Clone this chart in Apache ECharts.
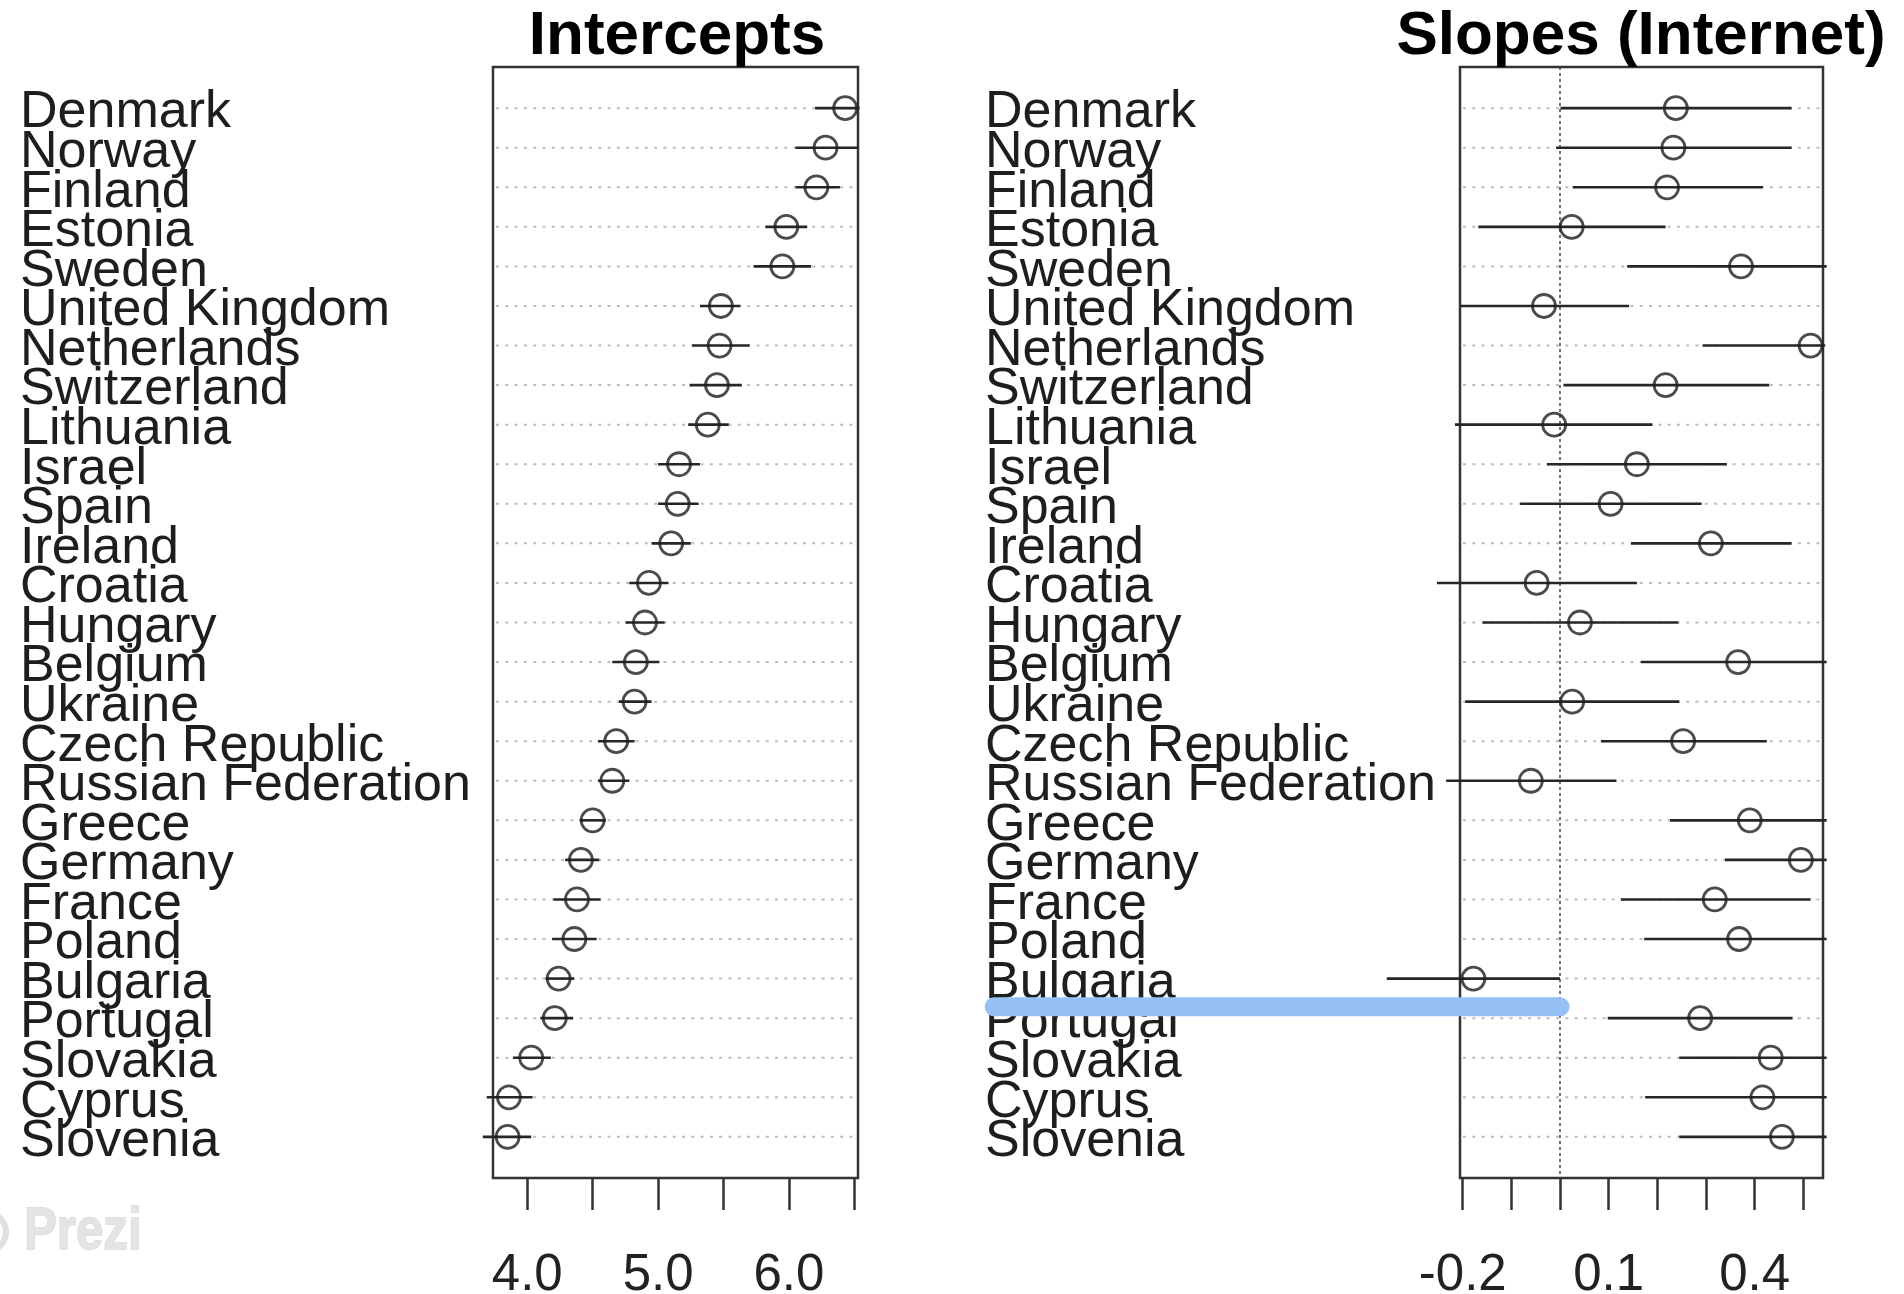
<!DOCTYPE html>
<html>
<head>
<meta charset="utf-8">
<script src="https://cdn.jsdelivr.net/npm/echarts@6/dist/echarts.min.js"></script>
<style>
html,body{margin:0;padding:0;background:#fff;}
#chart{width:1904px;height:1294px;}
</style>
</head>
<body>
<div id="chart"></div>
<script>
const countries = ["Denmark","Norway","Finland","Estonia","Sweden","United Kingdom","Netherlands","Switzerland","Lithuania","Israel","Spain","Ireland","Croatia","Hungary","Belgium","Ukraine","Czech Republic","Russian Federation","Greece","Germany","France","Poland","Bulgaria","Portugal","Slovakia","Cyprus","Slovenia"];

const interceptEst = [6.43,6.28,6.21,5.98,5.95,5.48,5.47,5.45,5.38,5.16,5.15,5.10,4.93,4.90,4.83,4.82,4.68,4.65,4.50,4.41,4.38,4.36,4.24,4.21,4.03,3.86,3.85];
const interceptLo  = [6.20,6.05,6.05,5.82,5.73,5.32,5.26,5.24,5.23,5.00,5.00,4.95,4.78,4.75,4.65,4.70,4.54,4.54,4.40,4.29,4.20,4.19,4.14,4.10,3.89,3.69,3.66];
const interceptHi  = [6.54,6.53,6.39,6.14,6.17,5.63,5.70,5.64,5.54,5.32,5.31,5.25,5.08,5.05,5.01,4.95,4.82,4.78,4.60,4.55,4.56,4.53,4.36,4.35,4.18,4.04,4.03];

const slopeEst = [0.238,0.233,0.220,0.024,0.372,-0.033,0.515,0.217,-0.012,0.158,0.104,0.310,-0.048,0.041,0.366,0.025,0.253,-0.060,0.390,0.495,0.318,0.368,-0.178,0.288,0.433,0.416,0.456];
const slopeLo  = [0.001,-0.008,0.026,-0.168,0.138,-0.204,0.293,0.007,-0.216,-0.027,-0.082,0.146,-0.253,-0.159,0.166,-0.195,0.084,-0.234,0.226,0.339,0.125,0.173,-0.356,0.098,0.245,0.175,0.245];
const slopeHi  = [0.476,0.476,0.417,0.217,0.548,0.142,0.545,0.430,0.190,0.343,0.291,0.476,0.158,0.243,0.548,0.245,0.425,0.116,0.548,0.548,0.515,0.548,0.000,0.478,0.548,0.548,0.548];

const interceptTicks  = [4.0,4.5,5.0,5.5,6.0,6.5];
const interceptLabels = [4.0,5.0,6.0];
const slopeTicks  = [-0.2,-0.1,0.0,0.1,0.2,0.3,0.4,0.5];
const slopeLabels = [-0.2,0.1,0.4];

// highlight annotation (blue stroke), in data units of the slopes panel
const highlightX = [-1.163, 0.0];
const highlightY = 22.71;

const titles = ["Intercepts","Slopes (Internet)"];

const FONT = "'Liberation Sans', Arial, Helvetica, sans-serif";
const rowIdx = countries.map((c,i)=>i);

const xRanges = [[3.738, 6.528],[-0.2056, 0.5405]];
const labelGap = [473, 475];

const chart = echarts.init(document.getElementById('chart'), null, {renderer:'canvas'});

function xAxisCfg(gi, ticks, labels){
  return {
    type:'value', gridIndex:gi, min:xRanges[gi][0], max:xRanges[gi][1], position:'bottom',
    axisLine:{show:false, onZero:false},
    splitLine:{show:false},
    axisTick:{show:true, inside:false, length:32, customValues:ticks, lineStyle:{color:'#333', width:2.5}},
    axisLabel:{show:true, customValues:labels, margin:72, fontSize:51, fontFamily:FONT, color:'#222',
      formatter:v=>Number(v).toFixed(1)}
  };
}
function yAxisCfg(gi){
  return {
    type:'value', gridIndex:gi, inverse:true, min:-1.04, max:27.04,
    axisLine:{show:false, onZero:false}, axisTick:{show:false}, splitLine:{show:false},
    axisLabel:{show:false}
  };
}

function labelSeries(gi){
  const r = xRanges[gi];
  return {
    type:'custom', xAxisIndex:gi, yAxisIndex:gi, silent:true, z:2, clip:false,
    data: rowIdx.map(i=>[i]),
    renderItem:(params, api)=>{
      const i = api.value(0);
      const p = api.coord([r[0], i]);
      return {type:'text', x:p[0]-labelGap[gi], y:p[1]+5,
        style:{text:countries[i], font:"52px "+FONT, fill:'#1e1e1e', align:'left', verticalAlign:'middle'}};
    }
  };
}
function gridLineSeries(gi){
  const r = xRanges[gi];
  return {
    type:'custom', xAxisIndex:gi, yAxisIndex:gi, silent:true, z:1,
    data: rowIdx.map(i=>[i]),
    renderItem:(params, api)=>{
      const i = api.value(0);
      const p1 = api.coord([r[0], i]);
      const p2 = api.coord([r[1], i]);
      return {type:'line', shape:{x1:p1[0]+3,y1:p1[1],x2:p2[0]-3,y2:p2[1]},
        style:{stroke:'#bdbdbd', lineWidth:2, lineDash:[3,6.3]}};
    }
  };
}
function barSeries(gi, lo, hi){
  return {
    type:'custom', xAxisIndex:gi, yAxisIndex:gi, silent:true, z:3, clip:false,
    data: rowIdx.map(i=>[lo[i], hi[i], i]),
    renderItem:(params, api)=>{
      const p1 = api.coord([api.value(0), api.value(2)]);
      const p2 = api.coord([api.value(1), api.value(2)]);
      return {type:'line', shape:{x1:p1[0],y1:p1[1],x2:p2[0],y2:p2[1]},
        style:{stroke:'#262626', lineWidth:2.6}};
    }
  };
}
function pointSeries(gi, est, extra){
  const s = {
    type:'scatter', xAxisIndex:gi, yAxisIndex:gi, silent:true, z:4,
    symbol:'circle', symbolSize:23,
    itemStyle:{color:'rgba(0,0,0,0)', borderColor:'#1e1e1e', borderWidth:2.8},
    data: rowIdx.map(i=>[est[i], i])
  };
  return Object.assign(s, extra||{});
}

const option = {
  animation:false,
  backgroundColor:'#fff',
  grid:[
    {left:493, top:67, width:365, height:1111, outerBoundsMode:'none', containLabel:false, show:true, borderColor:'#333', borderWidth:2.5, backgroundColor:'transparent'},
    {left:1460, top:67, width:363, height:1111, outerBoundsMode:'none', containLabel:false, show:true, borderColor:'#333', borderWidth:2.5, backgroundColor:'transparent'}
  ],
  xAxis:[ xAxisCfg(0, interceptTicks, interceptLabels), xAxisCfg(1, slopeTicks, slopeLabels) ],
  yAxis:[ yAxisCfg(0), yAxisCfg(1) ],
  series:[
    gridLineSeries(0),
    gridLineSeries(1),
    labelSeries(0),
    labelSeries(1),
    barSeries(0, interceptLo, interceptHi),
    barSeries(1, slopeLo, slopeHi),
    pointSeries(0, interceptEst),
    pointSeries(1, slopeEst, {
      markLine:{silent:true, symbol:'none', label:{show:false}, z:2,
        lineStyle:{color:'#444', width:1.5, type:[3,3]},
        data:[{xAxis:0}]}
    }),
    {
      type:'custom', xAxisIndex:1, yAxisIndex:1, silent:true, clip:false, z:10,
      data:[[highlightX[0], highlightX[1], highlightY]],
      renderItem:(params, api)=>{
        const p1 = api.coord([api.value(0), api.value(2)]);
        const p2 = api.coord([api.value(1), api.value(2)]);
        return {type:'line', shape:{x1:p1[0],y1:p1[1],x2:p2[0],y2:p2[1]},
          style:{stroke:'#96c1f4', lineWidth:19, lineCap:'round'}};
      }
    }
  ],
  graphic:[
    {type:'text', x:677, y:37, style:{text:titles[0], font:"bold 62px "+FONT, fill:'#000', align:'center', verticalAlign:'middle'}},
    {type:'text', x:1641, y:37, style:{text:titles[1], font:"bold 62px "+FONT, fill:'#000', align:'center', verticalAlign:'middle'}},
    {type:'circle', shape:{cx:-14, cy:1232, r:20}, style:{fill:'none', stroke:'#e0e0e0', lineWidth:6}},
    {type:'text', x:24, y:1232, scaleX:0.82, style:{text:'Prezi', font:"bold 60px "+FONT, fill:'#e4e4e4', stroke:'#d8d8d8', lineWidth:1.5, align:'left', verticalAlign:'middle'}}
  ]
};
chart.setOption(option);
</script>
</body>
</html>
